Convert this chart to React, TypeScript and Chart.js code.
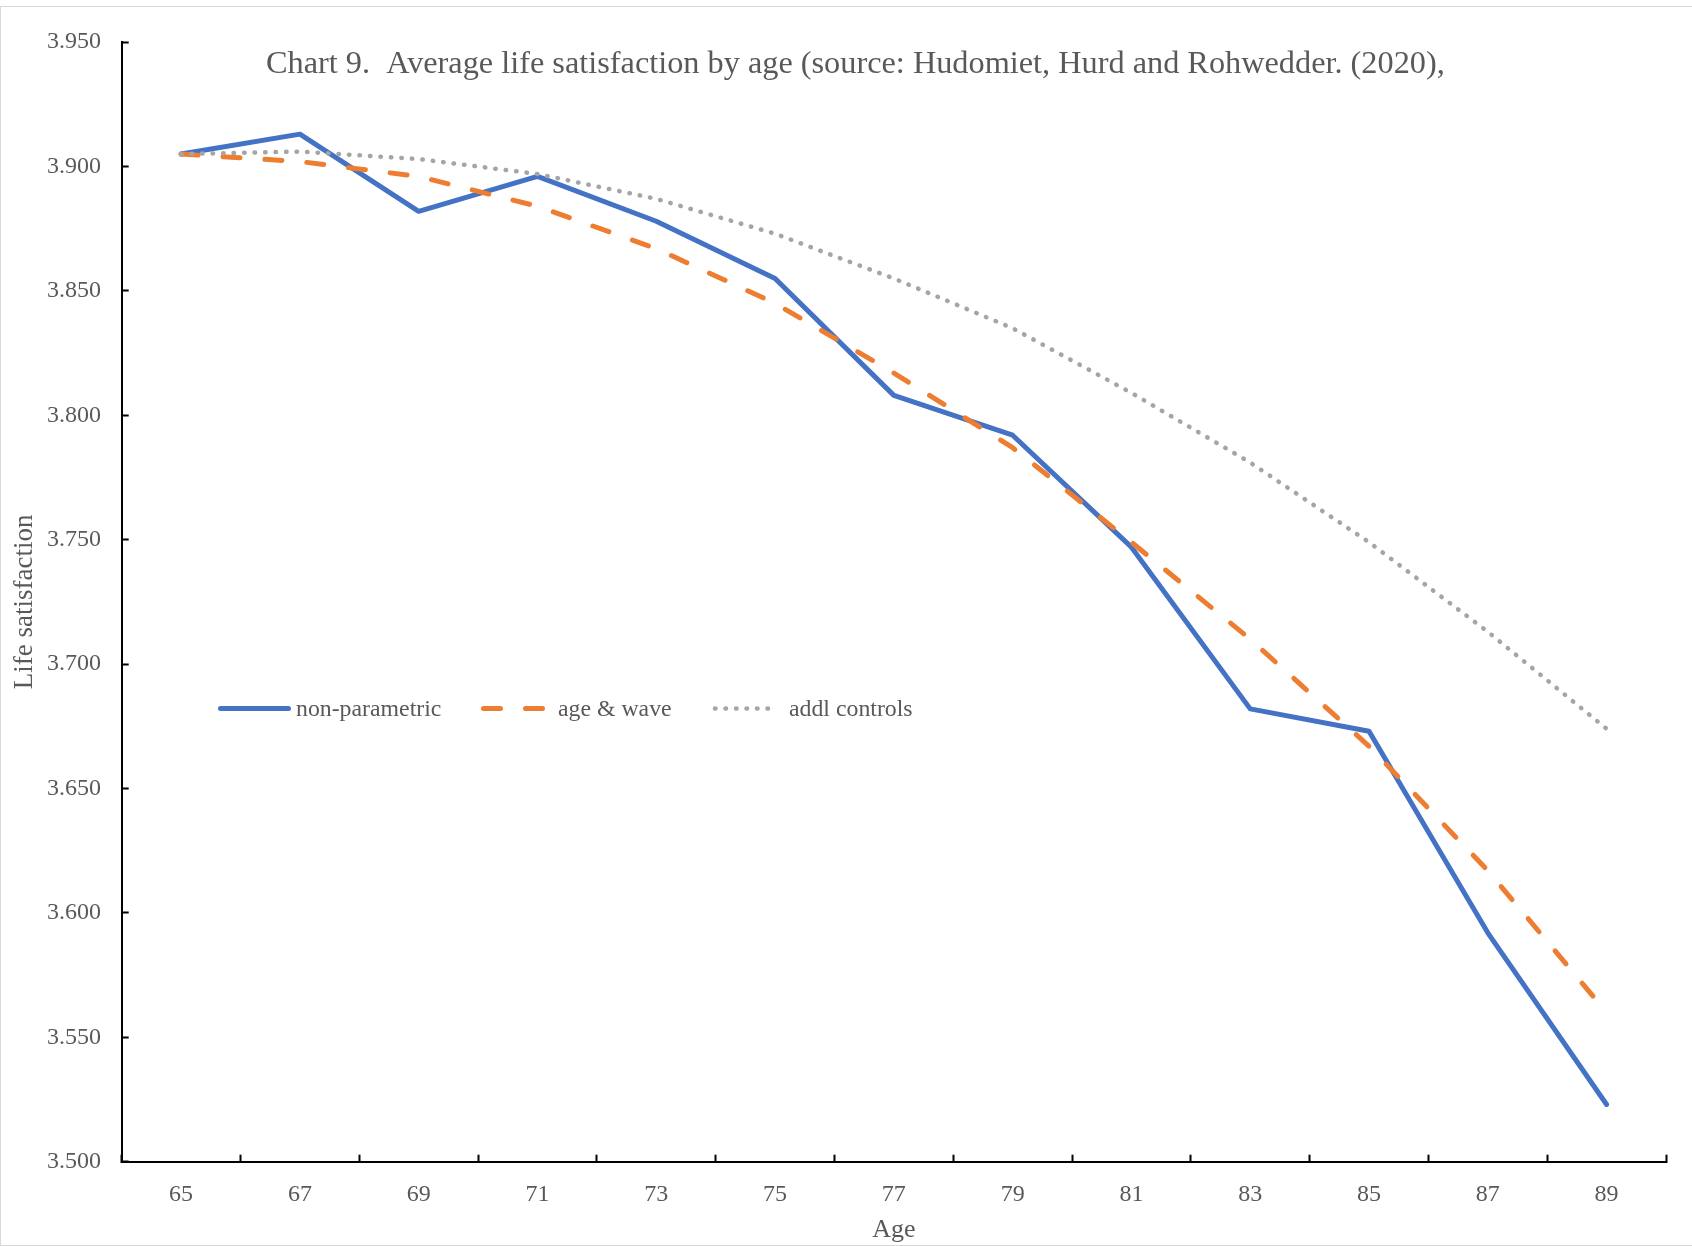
import React, { useEffect, useRef } from 'react';
import { Chart, registerables } from 'chart.js';

Chart.register(...registerables);

// ---- data ----
const ages = ['65', '67', '69', '71', '73', '75', '77', '79', '81', '83', '85', '87', '89'];
const nonParametric = [3.905, 3.913, 3.882, 3.896, 3.878, 3.855, 3.808, 3.792, 3.747, 3.682, 3.673, 3.592, 3.523];
const ageWave = [3.905, 3.902, 3.896, 3.884, 3.867, 3.845, 3.817, 3.787, 3.749, 3.710, 3.667, 3.617, 3.560];
const addlControls = [3.905, 3.906, 3.903, 3.897, 3.887, 3.873, 3.855, 3.835, 3.809, 3.781, 3.749, 3.713, 3.674];
const seriesNames = ['non-parametric', 'age & wave', 'addl controls'];
const yMin = 3.5;
const yMax = 3.95;
const yStep = 0.05;
const titleText = 'Chart 9.  Average life satisfaction by age (source: Hudomiet, Hurd and Rohwedder. (2020),';
const xTitle = 'Age';
const yTitle = 'Life satisfaction';

const FONT = '"Liberation Serif", "Times New Roman", serif';
const TEXT = '#595959';

const titlePlugin = {
  id: 'insideTitle',
  afterDraw(chart: any) {
    const ctx = chart.ctx;
    ctx.save();
    ctx.font = `32.3px ${FONT}`;
    ctx.fillStyle = TEXT;
    ctx.textAlign = 'left';
    ctx.textBaseline = 'alphabetic';
    ctx.fillText(titleText, 266, 73);
    ctx.restore();
  },
};

const legendLayout = [
  { x0: 220.5, x1: 288.5, tx: 296 },
  { x0: 483.5, x1: 543.5, tx: 558 },
  { x0: 715, x1: 775, tx: 789 },
];

const legendPlugin = {
  id: 'insideLegend',
  afterDraw(chart: any) {
    const ctx = chart.ctx;
    const y = 708.5;
    ctx.save();
    chart.data.datasets.forEach((ds: any, i: number) => {
      const l = legendLayout[i];
      ctx.beginPath();
      ctx.strokeStyle = ds.borderColor;
      ctx.lineWidth = ds.borderWidth;
      ctx.lineCap = 'round';
      ctx.setLineDash(ds.borderDash || []);
      ctx.moveTo(l.x0, y);
      ctx.lineTo(l.x1, y);
      ctx.stroke();
      ctx.setLineDash([]);
      ctx.font = `23.8px ${FONT}`;
      ctx.fillStyle = TEXT;
      ctx.textAlign = 'left';
      ctx.textBaseline = 'middle';
      ctx.fillText(ds.label, l.tx, y + 1);
    });
    ctx.restore();
  },
};

export default function App() {
  const ref = useRef<HTMLCanvasElement>(null);

  useEffect(() => {
    if (!ref.current) return;
    const chart = new Chart(ref.current, {
      type: 'line',
      data: {
        labels: ages,
        datasets: [
          {
            label: seriesNames[0],
            data: nonParametric,
            borderColor: '#4472C4',
            borderWidth: 5,
            borderJoinStyle: 'round',
            borderCapStyle: 'round',
            pointRadius: 0,
            order: 3,
          },
          {
            label: seriesNames[1],
            data: ageWave,
            borderColor: '#ED7D31',
            borderWidth: 5,
            borderDash: [17, 25],
            borderJoinStyle: 'round',
            borderCapStyle: 'round',
            pointRadius: 0,
            order: 2,
          },
          {
            label: seriesNames[2],
            data: addlControls,
            borderColor: '#A5A5A5',
            borderWidth: 4.5,
            borderDash: [0.5, 10],
            borderJoinStyle: 'round',
            borderCapStyle: 'round',
            pointRadius: 0,
            order: 1,
          },
        ],
      },
      options: {
        responsive: false,
        animation: false,
        devicePixelRatio: 1,
        layout: { padding: { left: 0, top: 41, right: 26, bottom: 0 } },
        plugins: {
          legend: { display: false },
          tooltip: { enabled: false },
          title: { display: false },
        },
        elements: { line: { tension: 0 }, point: { radius: 0 } },
        scales: {
          x: {
            type: 'category',
            offset: true,
            grid: {
              offset: true,
              drawOnChartArea: false,
              drawTicks: true,
              tickLength: -7,
              tickColor: '#000000',
              tickWidth: 2,
              color: '#000000',
            },
            border: { display: true, color: '#000000', width: 2 },
            ticks: {
              color: TEXT,
              font: { family: FONT, size: 24 },
              padding: 25.5,
              maxRotation: 0,
              autoSkip: false,
            },
            title: {
              display: true,
              text: xTitle,
              color: TEXT,
              font: { family: FONT, size: 26 },
              padding: { top: 0, bottom: 0.4 },
            },
            afterFit(scale: any) {
              scale.height = 84.3;
            },
          },
          y: {
            min: yMin,
            max: yMax,
            grid: {
              drawOnChartArea: false,
              drawTicks: true,
              tickLength: -7,
              tickColor: '#000000',
              tickWidth: 2,
              color: '#000000',
            },
            border: { display: true, color: '#000000', width: 2 },
            ticks: {
              stepSize: yStep,
              color: TEXT,
              font: { family: FONT, size: 24 },
              padding: 27.7,
              callback: (v: any) => Number(v).toFixed(3),
            },
            title: {
              display: true,
              text: yTitle,
              color: TEXT,
              font: { family: FONT, size: 27 },
              padding: { top: 8.5, bottom: 0 },
            },
            afterFit(scale: any) {
              scale.width = 121.7;
            },
          },
        },
      } as any,
      plugins: [titlePlugin, legendPlugin],
    });
    return () => chart.destroy();
  }, []);

  return (
    <div style={{ position: 'absolute', left: 0, top: 0, width: 1692, height: 1246, background: '#ffffff', overflow: 'hidden' }}>
      <div
        style={{
          position: 'absolute',
          left: 0,
          top: 6,
          width: 1700,
          height: 1240,
          boxSizing: 'border-box',
          borderTop: '1.5px solid #d9d9d9',
          borderLeft: '1.5px solid #d9d9d9',
          borderBottom: '1.5px solid #d9d9d9',
        }}
      />
      <canvas ref={ref} width={1692} height={1246} style={{ position: 'absolute', left: 0, top: 0, display: 'block' }} />
    </div>
  );
}
